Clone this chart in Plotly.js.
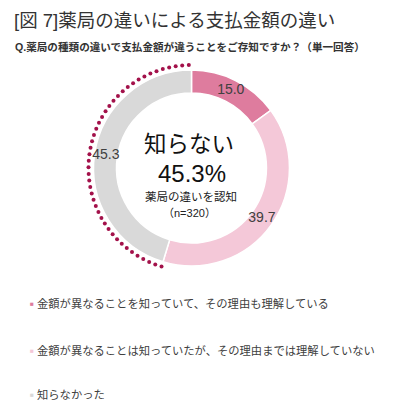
<!DOCTYPE html>
<html>
<head>
<meta charset="utf-8">
<script src="https://cdn.plot.ly/plotly-3.0.1.min.js"></script>
<style>
  html, body { margin: 0; padding: 0; background: #fff; }
  #chart { width: 400px; height: 405px; }
</style>
</head>
<body>
<div id="chart"></div>
<script>
// answers (single choice), n=320
const labels = [
    "金額が異なることを知っていて、その理由も理解している",
    "金額が異なることは知っていたが、その理由までは理解していない",
    "知らなかった"
];
const values = [15.0, 39.7, 45.3];
const sample_n = 320;

const colors = ["#de7c9e", "#f4c8d8", "#d9d9d9"];
const jp_font = "'Liberation Sans', 'Noto Sans CJK JP', sans-serif";

function plot_donut(div_id){
    let d_chart = document.querySelector(div_id);
    if (!d_chart){
        return;
    }

    // slice angles (degrees from 12 o'clock, clockwise like the original)
    let total = values.reduce((a, b) => a + b, 0);
    let widths = values.map(v => v / total * 360);
    let cum = 0;
    let mid_theta = widths.map(w => {
        let m = cum + w / 2;
        cum += w;
        return m;
    });

    // donut ring drawn as polar bars between the hole and the outer edge
    let ring = {
        type: "barpolar",
        r: values.map(() => 0.223),
        base: values.map(() => 0.728),
        theta: mid_theta,
        width: widths,
        text: labels,
        marker: {
            color: colors,
            line: {color: "#ffffff", width: 1.5}
        },
        hoverinfo: "text",
        showlegend: false
    };

    // value labels in the middle of the ring
    let slice_text = {
        type: "scatterpolar",
        mode: "text",
        r: values.map(() => 0.84),
        theta: mid_theta,
        text: values.map(v => v.toFixed(1)),
        textfont: {family: jp_font, size: 14, color: "#404040"},
        hoverinfo: "skip",
        showlegend: false
    };

    // dotted arc along the "知らなかった" slice (last one, ends at 12 o'clock)
    let start = 360 - widths[2];
    let n_dots = 45;
    let theta = [];
    for (let i = 0; i < n_dots; i++){
        theta.push(start + i * (358.5 - start) / (n_dots - 1));
    }
    let dots = {
        type: "scatterpolar",
        mode: "markers",
        r: theta.map(() => 1),
        theta: theta,
        marker: {color: "#a3114a", size: 4},
        hoverinfo: "skip",
        showlegend: false
    };

    let annotations = [
        {text: "[図 7]薬局の違いによる支払金額の違い", x: 12/400, y: 1 - 21/405,
         font: {size: 18.5, color: "#333333"}},
        {text: "<b>Q.薬局の種類の違いで支払金額が違うことをご存知ですか？（単一回答）</b>", x: 13/400, y: 1 - 47/405,
         font: {size: 10.6, color: "#333333"}},
        {text: "知らない", x: 0.4725, y: 1 - 144/405, xanchor: "center",
         font: {size: 22.5, color: "#111111"}},
        {text: values[2].toFixed(1) + "%", x: 0.48, y: 1 - 174/405, xanchor: "center",
         font: {size: 24, color: "#111111"}},
        {text: "薬局の違いを認知", x: 0.4775, y: 1 - 196/405, xanchor: "center",
         font: {size: 11.5, color: "#222222"}},
        {text: "（n=" + sample_n + "）", x: 0.4725, y: 1 - 213/405, xanchor: "center",
         font: {size: 11, color: "#222222"}}
    ];

    let legend_y = [303, 350, 394];
    labels.forEach((lab, i) => {
        annotations.push({text: "■", x: 28/400, y: 1 - legend_y[i]/405,
            font: {size: 6.5, color: colors[i]}});
        annotations.push({text: lab, x: 35/400, y: 1 - legend_y[i]/405,
            font: {size: 11.3, color: "#404040"}});
    });
    annotations.forEach(a => {
        a.xref = "paper";
        a.yref = "paper";
        a.showarrow = false;
        a.xanchor = a.xanchor || "left";
        a.yanchor = "middle";
        a.font.family = jp_font;
    });

    let layout = {
        width: 400,
        height: 405,
        margin: {l: 0, r: 0, t: 0, b: 0, pad: 0},
        paper_bgcolor: "#ffffff",
        showlegend: false,
        polar: {
            domain: {x: [0.22125, 0.73625], y: [0.3309, 0.8395]},
            bgcolor: "rgba(0,0,0,0)",
            barmode: "overlay",
            radialaxis: {range: [0, 1], visible: false},
            angularaxis: {rotation: 90, direction: "clockwise", visible: false}
        },
        annotations: annotations
    };

    return Plotly.newPlot(d_chart, [ring, dots, slice_text], layout, {displayModeBar: false, staticPlot: true});
}

plot_donut("#chart");
</script>
</body>
</html>
